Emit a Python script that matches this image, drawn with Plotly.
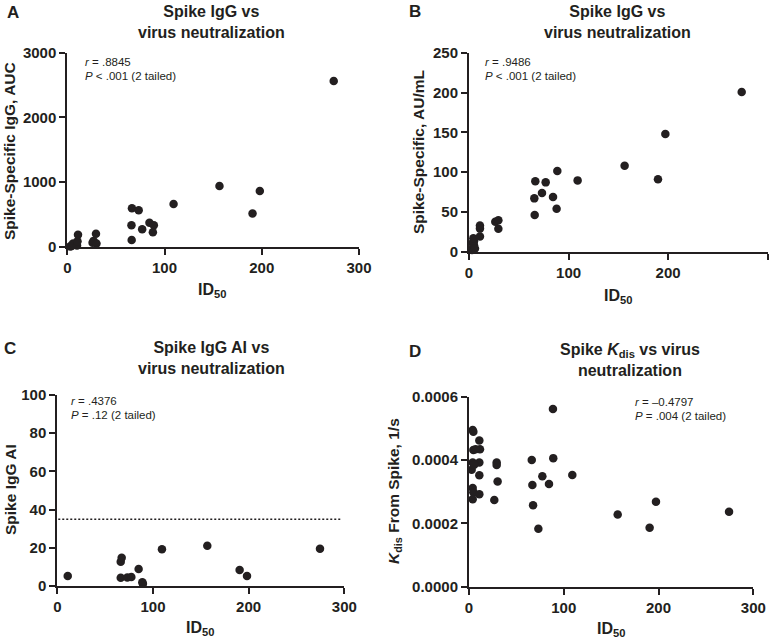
import plotly.graph_objects as go

# ---------------- data ----------------
a_x = [3, 4.5, 5, 6, 10, 10.5, 11, 26, 27, 29.5, 30, 66.2, 66, 66.5, 73.4, 77, 84.5, 89, 88, 109.3, 156.5, 190.5, 198, 274]
a_y = [5, 11, 30, 50, 20, 85, 185, 62, 90, 200, 50, 104, 333, 594, 565, 269, 371, 333, 222, 660, 938, 515, 861, 2562]

b_x = [3, 4, 5, 3.5, 5, 4.4, 6, 11, 11, 11, 26.4, 29.5, 29.5, 66, 65.6, 66.6, 73.3, 77, 84.4, 88, 88.7, 109.1, 156.3, 189.8, 197.2, 273.9]
b_y = [2, 5, 8, 11, 13, 16.8, 4, 19, 29, 33, 37.7, 39.4, 28.9, 46, 67, 88.4, 73.7, 87.1, 68.7, 54, 101.3, 89.6, 108, 90.9, 148, 200.6]

c_x = [10.9, 66.3, 67.3, 66.3, 73.2, 77.4, 85, 88.9, 89.5, 109.4, 156.8, 190.6, 198.3, 274.6]
c_y = [5.2, 12.7, 14.8, 4.3, 4.5, 4.7, 8.9, 1.9, 1.2, 19.2, 21.1, 8.4, 5.2, 19.5]
c_threshold = 35

d_x = [3.9, 4.6, 10.9, 4.6, 11.6, 3.9, 10.9, 2.8, 10.9, 3.9, 4.6, 10.9, 3.9, 5.5, 7,
       29.2, 29.2, 30.2, 26.7, 66.2, 66.9, 67.6, 73.2, 77.4, 84.4, 88.6, 88.9, 109, 156.9, 190.6, 197.3, 274.4]
d_y = [0.000495, 0.000489, 0.000462, 0.000432, 0.000434, 0.000392, 0.000392, 0.000369, 0.000352, 0.000312,
       0.000298, 0.000292, 0.000276, 0.000385, 0.000434,
       0.000392, 0.000384, 0.000332, 0.000274, 0.000400, 0.000321, 0.000257, 0.000183, 0.000349, 0.000324,
       0.000561, 0.000406, 0.000353, 0.000228, 0.000186, 0.000268, 0.000237]

x_ticks = [0, 100, 200, 300]
a_ticks = [0, 1000, 2000, 3000]
b_ticks = [0, 50, 100, 150, 200, 250]
c_ticks = [0, 20, 40, 60, 80, 100]
d_ticks = [0, 0.0002, 0.0004, 0.0006]

stats = {
    "A": ("<i>r</i> = .8845", "<i>P</i> < .001 (2 tailed)"),
    "B": ("<i>r</i> = .9486", "<i>P</i> < .001 (2 tailed)"),
    "C": ("<i>r</i> = .4376", "<i>P</i> = .12 (2 tailed)"),
    "D": ("<i>r</i> = –0.4797", "<i>P</i> = .004 (2 tailed)"),
}

# ---------------- style ----------------
W, H = 779, 639
INK = "#231f20"
FONT = "Liberation Sans, Arial, sans-serif"


def px(x):
    return x / W


def py(y):
    return 1 - y / H


# panel boxes in window pixels: (left, right, top, bottom)
boxes = {
    "A": (67.3, 359.0, 52.7, 246.7),
    "B": (469.0, 767.7, 52.7, 251.7),
    "C": (57.3, 344.3, 395.0, 586.0),
    "D": (469.0, 753.3, 396.7, 586.7),
}

fig = go.Figure()

panels = [
    ("A", a_x, a_y, a_ticks, [0, 3000], "d", ""),
    ("B", b_x, b_y, b_ticks, [0, 250], "d", "2"),
    ("C", c_x, c_y, c_ticks, [0, 100], "d", "3"),
    ("D", d_x, d_y, d_ticks, [0, 0.0006], ".4f", "4"),
]

layout = dict(
    width=W, height=H,
    margin=dict(l=0, r=0, t=0, b=0),
    paper_bgcolor="white", plot_bgcolor="white",
    showlegend=False,
    font=dict(family=FONT, color=INK),
    template="none",
)

axis_common = dict(
    showline=True, linewidth=2, linecolor=INK,
    ticks="outside", ticklen=6, tickwidth=2, tickcolor=INK,
    showgrid=False, zeroline=False, automargin=False,
    tickfont=dict(family=FONT, size=15, color=INK, weight="bold"),
)

for key, xs, ys, yt, yr, yfmt, suf in panels:
    l, r, t, b = boxes[key]
    fig.add_trace(go.Scatter(
        x=xs, y=ys, mode="markers",
        marker=dict(size=8.5, color=INK, line=dict(width=0)),
        xaxis="x" + suf, yaxis="y" + suf, cliponaxis=False,
    ))
    layout["xaxis" + suf] = dict(
        axis_common, domain=[px(l), px(r)], range=[0, 300],
        tickvals=x_ticks, anchor="y" + suf,
    )
    layout["yaxis" + suf] = dict(
        axis_common, domain=[py(b), py(t)], range=yr,
        tickvals=yt, tickformat=yfmt, anchor="x" + suf,
    )

fig.update_layout(**layout)

# dotted threshold in panel C
fig.add_shape(type="line", xref="x3", yref="y3", x0=1, x1=297,
              y0=c_threshold, y1=c_threshold,
              line=dict(color=INK, width=1.5, dash="2px,2px"))

ann = []


def add_text(x, y, text, size, bold=True, angle=0, xanchor="center", yanchor="middle"):
    ann.append(dict(
        x=px(x), y=py(y), xref="paper", yref="paper", text=text, showarrow=False,
        textangle=angle, xanchor=xanchor, yanchor=yanchor,
        font=dict(family=FONT, size=size, color=INK, weight="bold" if bold else "normal"),
    ))


# panel letters
add_text(13, 12, "A", 17)
add_text(415, 11, "B", 17)
add_text(10, 348, "C", 17)
add_text(415, 351, "D", 17)

# titles
add_text(211, 22, "Spike IgG vs<br>virus neutralization", 16)
add_text(617, 22, "Spike IgG vs<br>virus neutralization", 16)
add_text(211, 358, "Spike IgG AI vs<br>virus neutralization", 16)
add_text(630, 360, "Spike <i>K</i><sub>dis</sub> vs virus<br>neutralization", 16)

# x titles
xt = "ID<sub>50</sub>"
add_text(212, 290, xt, 16)
add_text(618, 296, xt, 16)
add_text(200, 628, xt, 16)
add_text(611, 629, xt, 16)

# y titles
add_text(10, 151, "Spike-Specific IgG, AUC", 15.5, angle=-90)
add_text(418, 152, "Spike-Specific, AU/mL", 15.5, angle=-90)
add_text(10, 490, "Spike IgG AI", 15.5, angle=-90)
add_text(394, 491, "<i>K</i><sub>dis</sub> From Spike, 1/s", 15.5, angle=-90)

# stats
stat_pos = {"A": (82.7, 61.7), "B": (482.7, 61.7), "C": (69.3, 400.7), "D": (633.3, 401.7)}
for k, (sx, sy) in stat_pos.items():
    r_txt, p_txt = stats[k]
    add_text(sx, sy, r_txt, 11.5, bold=False, xanchor="left")
    add_text(sx, sy + 14, p_txt, 11.5, bold=False, xanchor="left")

fig.update_layout(annotations=ann)

# remove the browser's default page margin so the figure fills the window exactly
fig.write_html("out.html", config={"displayModeBar": False},
               post_script="document.body.style.margin='0px';")
